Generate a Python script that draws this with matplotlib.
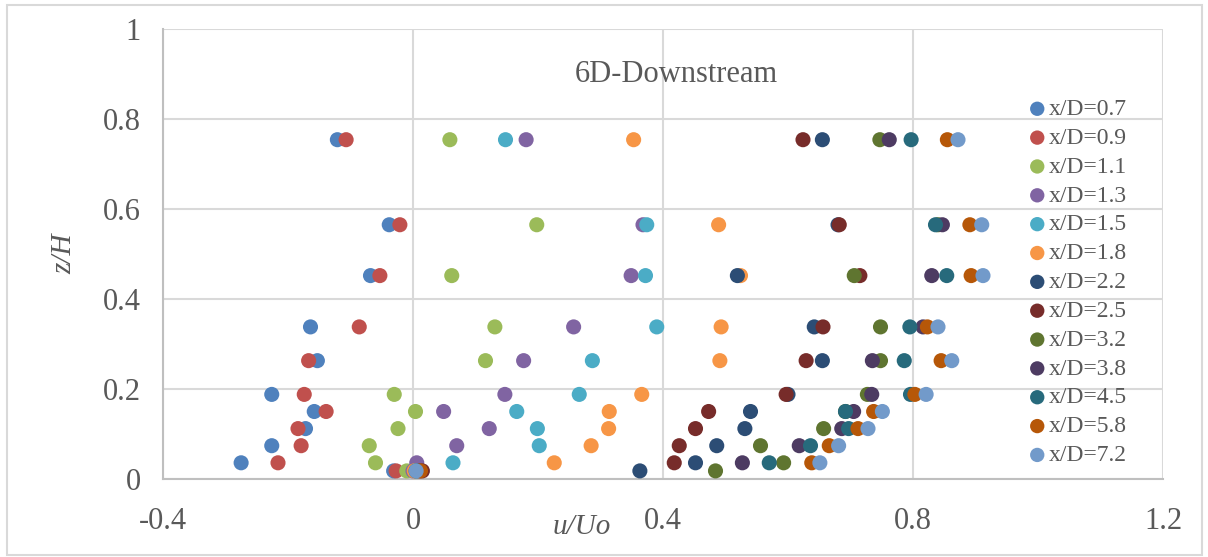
import matplotlib
matplotlib.use("Agg")
import matplotlib.pyplot as plt
from matplotlib.patches import Rectangle

# z/H levels (same for every station)
z_levels = [0.754, 0.565, 0.452, 0.338, 0.263, 0.188, 0.150, 0.112, 0.074, 0.036, 0.018]

labels = ["x/D=0.7", "x/D=0.9", "x/D=1.1", "x/D=1.3", "x/D=1.5", "x/D=1.8", "x/D=2.2",
          "x/D=2.5", "x/D=3.2", "x/D=3.8", "x/D=4.5", "x/D=5.8", "x/D=7.2"]

u_07 = [-0.121, -0.038, -0.068, -0.164, -0.153, -0.226, -0.158, -0.172, -0.226, -0.275, -0.031]
u_09 = [-0.107, -0.021, -0.053, -0.086, -0.167, -0.174, -0.139, -0.184, -0.179, -0.216, -0.027]
u_11 = [0.059, 0.198, 0.062, 0.131, 0.116, -0.030, 0.004, -0.024, -0.070, -0.060, -0.010]
u_13 = [0.181, 0.368, 0.349, 0.257, 0.177, 0.147, 0.049, 0.122, 0.070, 0.006, 0.000]
u_15 = [0.148, 0.374, 0.372, 0.390, 0.287, 0.266, 0.166, 0.199, 0.202, 0.064, 0.004]
u_18 = [0.353, 0.489, 0.524, 0.493, 0.491, 0.366, 0.314, 0.313, 0.285, 0.226, 0.002]
u_22 = [0.655, 0.680, 0.519, 0.642, 0.655, 0.600, 0.540, 0.531, 0.486, 0.452, 0.363]
u_25 = [0.624, 0.682, 0.715, 0.656, 0.629, 0.597, 0.473, 0.452, 0.426, 0.418, 0.015]
u_32 = [0.747, 0.840, 0.706, 0.748, 0.748, 0.727, 0.692, 0.657, 0.556, 0.593, 0.484]
u_38 = [0.762, 0.847, 0.830, 0.816, 0.735, 0.734, 0.705, 0.686, 0.618, 0.527, 0.010]
u_45 = [0.797, 0.836, 0.854, 0.795, 0.786, 0.796, 0.692, 0.697, 0.636, 0.570, 0.005]
u_58 = [0.855, 0.891, 0.893, 0.823, 0.845, 0.803, 0.737, 0.712, 0.666, 0.638, 0.012]
u_72 = [0.872, 0.910, 0.912, 0.840, 0.862, 0.821, 0.751, 0.728, 0.681, 0.651, 0.005]

series = [u_07, u_09, u_11, u_13, u_15, u_18, u_22, u_25, u_32, u_38, u_45, u_58, u_72]

colors = ["#4F81BD", "#C0504D", "#9BBB59", "#8064A2", "#4BACC6", "#F79646", "#2C4D75",
          "#772C2A", "#5F7530", "#4D3B62", "#276A7C", "#B65708", "#729ACA"]

x_ticks = [-0.4, 0, 0.4, 0.8, 1.2]
x_ticklabels = ["-0.4", "0", "0.4", "0.8", "1.2"]
y_ticks = [0, 0.2, 0.4, 0.6, 0.8, 1.0]
y_ticklabels = ["0", "0.2", "0.4", "0.6", "0.8", "1"]

text_color = "#595959"
plt.rcParams["font.family"] = ["Liberation Serif", "DejaVu Serif"]

fig = plt.figure(figsize=(12.08, 5.57), dpi=100)
ax = fig.add_axes([163 / 1208, 1 - 479 / 557, 1000 / 1208, 450 / 557])

for u, c, lab in zip(series, colors, labels):
    ax.scatter(u, z_levels, s=118, color=c, label=lab, edgecolors="none", zorder=3)

ax.set_xlim(-0.4, 1.2)
ax.set_ylim(0, 1)
ax.set_xticks(x_ticks)
ax.set_xticklabels(x_ticklabels)
ax.set_yticks(y_ticks)
ax.set_yticklabels(y_ticklabels)
ax.tick_params(length=0, labelsize=22, labelcolor=text_color)
ax.tick_params(axis="x", pad=20)
ax.tick_params(axis="y", pad=16)
ax.grid(True, color="#d9d9d9", linewidth=1.5, zorder=0)
ax.set_axisbelow(True)
for side in ["top", "right"]:
    ax.spines[side].set_visible(False)
for side in ["left", "bottom"]:
    ax.spines[side].set_color("#bfbfbf")
    ax.spines[side].set_linewidth(1.5)

fig.text(582 / 1208, 1 - 527 / 557, "u/Uo", fontsize=21, style="italic",
         color=text_color, ha="center", va="center")
ax.set_ylabel("z/H", fontsize=21, style="italic", color=text_color, labelpad=18)
ax.text(0.513, 0.898, "6D-Downstream", transform=ax.transAxes, ha="center", va="center",
        fontsize=22, color=text_color)

leg = ax.legend(loc="upper left", bbox_to_anchor=(1016 / 1208, 1 - 89 / 557),
                bbox_transform=fig.transFigure, frameon=False, fontsize=17,
                handletextpad=0.0, labelspacing=0.31, borderaxespad=0, handlelength=1.0,
                scatterpoints=1, markerscale=0.95)
for t in leg.get_texts():
    t.set_color(text_color)

fig.patches.append(Rectangle((7 / 1208, 2 / 557), 1195 / 1208, 550 / 557,
                             transform=fig.transFigure, fill=False,
                             edgecolor="#d9d9d9", linewidth=1.5))

fig.savefig("out.png", dpi=100)
